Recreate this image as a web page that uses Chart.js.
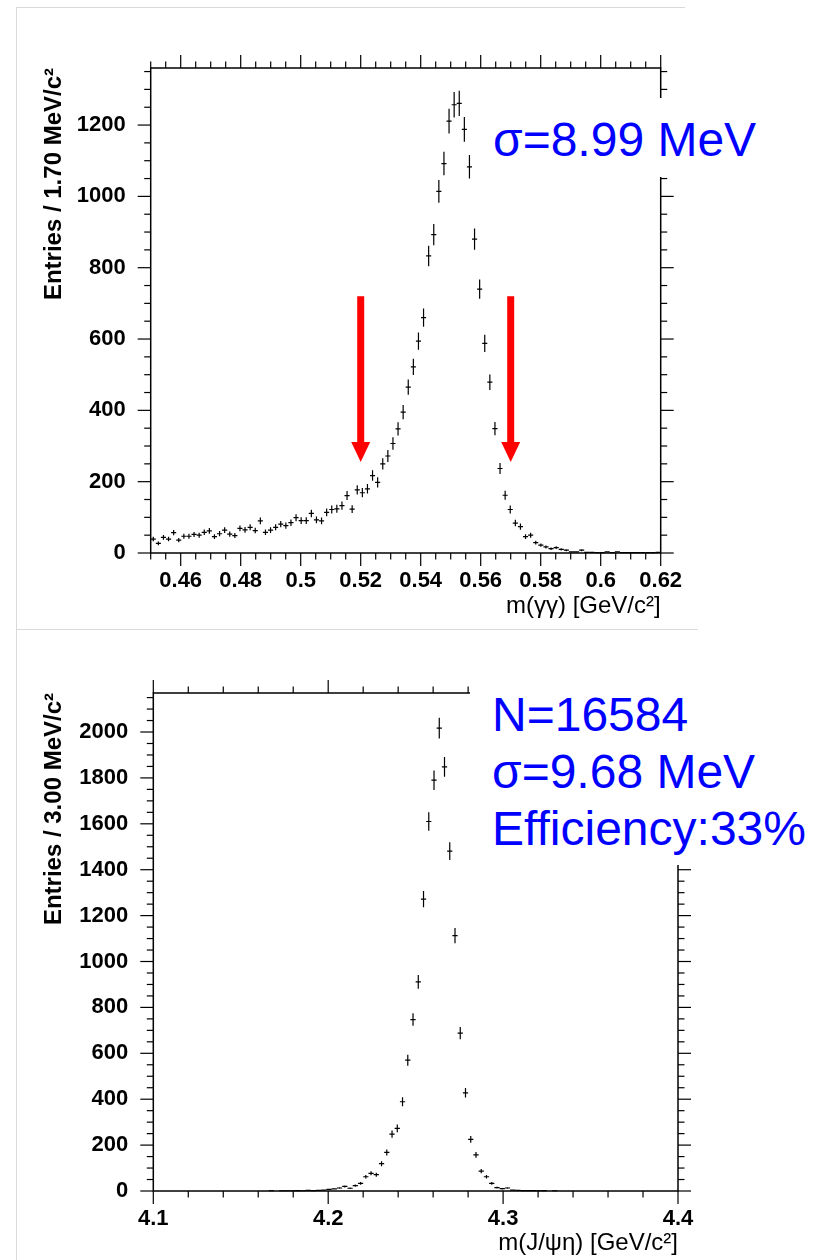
<!DOCTYPE html>
<html>
<head>
<meta charset="utf-8">
<script src="https://cdn.jsdelivr.net/npm/chart.js@4/dist/chart.umd.min.js"></script>
<style>
  html, body { margin: 0; padding: 0; background: #fff; }
  body { width: 825px; height: 1260px; position: relative; overflow: hidden; font-family: "Liberation Sans", Arial, sans-serif; }
  canvas { position: absolute; left: 0; }
  #c-top { top: 0; }
  #c-bot { top: 628px; }
  .panel { position: absolute; border-top: 1px solid #d9d9d9; border-left: 1px solid #d9d9d9; }
  .mask { position: absolute; background: #fff; }
  .note { position: absolute; color: #0000ff; font-size: 48px; line-height: 57px; white-space: nowrap; }
</style>
</head>
<body>
<div class="panel" style="left:16px;top:7px;width:668px;height:621px"></div>
<div class="panel" style="left:16px;top:629px;width:681px;height:640px"></div>
<canvas id="c-top" width="825" height="628"></canvas>
<canvas id="c-bot" width="825" height="632"></canvas>
<div class="mask" style="left:485px;top:98px;width:290px;height:79px"></div>
<div class="note" style="left:493px;top:111px">σ=8.99 MeV</div>
<div class="mask" style="left:470px;top:675px;width:345px;height:190px"></div>
<div class="note" style="left:492px;top:686px">N=16584<br>σ=9.68 MeV<br>Efficiency:33%</div>
<script>
"use strict";

// m(γγ) histogram, 100 bins of 1.70 MeV
const TOP_X_MIN = 0.45;
const TOP_X_MAX = 0.62;
const TOP_BIN = 0.0017;
const TOP_Y_MAX = 1360;
const TOP_X_TICKS = [0.46, 0.48, 0.5, 0.52, 0.54, 0.56, 0.58, 0.6, 0.62];
const TOP_Y_TICKS = [0, 200, 400, 600, 800, 1000, 1200];
const TOP_COUNTS = [
  39, 27, 44, 39, 57, 36, 47, 47, 52, 50,
  58, 62, 46, 54, 64, 53, 49, 69, 65, 72,
  63, 90, 58, 64, 72, 81, 77, 85, 99, 91,
  91, 111, 93, 90, 114, 122, 124, 133, 161, 123,
  177, 169, 180, 217, 198, 250, 272, 307, 348, 395,
  465, 522, 594, 660, 833, 893, 1014, 1092, 1211, 1257,
  1261, 1188, 1083, 880, 740, 588, 479, 349, 237, 162,
  122, 84, 74, 46, 50, 29, 22, 17, 12, 15,
  10, 8, 3, 3, 8, 2, 2, 1, 1, 3,
  1, 3, 1, 1, 1, 1, 1, 1, 1, 2,
];
// selection window and arrow extent (in entries)
const TOP_CUTS = [0.52, 0.57];
const ARROW_FROM = 720;
const ARROW_TO = 255;

// m(J/ψη) histogram, 100 bins of 3.00 MeV
const BOT_X_MIN = 4.1;
const BOT_X_MAX = 4.4;
const BOT_BIN = 0.003;
const BOT_Y_MAX = 2170;
const BOT_X_TICKS = [4.1, 4.2, 4.3, 4.4];
const BOT_Y_TICKS = [0, 200, 400, 600, 800, 1000, 1200, 1400, 1600, 1800, 2000];
const BOT_COUNTS = [
  0, 0, 0, 0, 0, 0, 0, 0, 0, 0,
  0, 0, 0, 0, 0, 0, 0, 0, 0, 0,
  0, 0, 1, 0, 1, 1, 1, 2, 1, 3,
  2, 3, 4, 7, 9, 13, 20, 12, 23, 33,
  62, 77, 71, 119, 168, 248, 273, 389, 570, 747,
  911, 1272, 1610, 1790, 2017, 1848, 1481, 1113, 688, 428,
  225, 157, 87, 62, 33, 15, 10, 13, 4, 3,
  2, 2, 2, 1, 2, 0, 1, 0, 0, 0,
  0, 0, 0, 0, 0, 0, 0, 0, 0, 0,
  0, 0, 0, 0, 0, 0, 0, 0, 0, 0,
];

const FONT = "'Liberation Sans', Arial, sans-serif";
Chart.defaults.font.family = FONT;

const toPoints = (counts, xmin, bin) => {
  const pts = [];
  counts.forEach((n, i) => {
    if (n > 0) pts.push({ x: xmin + bin * (i + 0.5), y: n });
  });
  return pts;
};

// ROOT-like frame, outward ticks on all four sides, error crosses, cut arrows
const rootStyle = {
  id: "rootStyle",
  beforeDatasetsDraw(chart, args, o) {
    const { ctx, chartArea: a, scales: { x, y } } = chart;
    ctx.save();
    ctx.strokeStyle = "#000";
    ctx.lineWidth = 1.5;
    ctx.strokeRect(a.left, a.top, a.right - a.left, a.bottom - a.top);
    ctx.lineWidth = 1.2;
    const seg = (x0, y0, x1, y1) => { ctx.beginPath(); ctx.moveTo(x0, y0); ctx.lineTo(x1, y1); ctx.stroke(); };
    const isMajor = (v, step) => Math.abs(v / step - Math.round(v / step)) < 1e-6;
    const nx = Math.round((x.max - x.min) / o.xMinor);
    for (let i = 0; i <= nx; i++) {
      const v = x.min + i * o.xMinor;
      const len = isMajor(v, o.xMajor) ? 13 : 6.5;
      const px = x.getPixelForValue(v);
      seg(px, a.bottom, px, a.bottom + len);
      seg(px, a.top, px, a.top - len);
    }
    const ny = Math.floor((y.max - y.min) / o.yMinor + 1e-6);
    for (let i = 0; i <= ny; i++) {
      const v = y.min + i * o.yMinor;
      const len = isMajor(v, o.yMajor) ? 13 : 6.5;
      const py = y.getPixelForValue(v);
      seg(a.left, py, a.left - len, py);
      seg(a.right, py, a.right + len, py);
    }
    ctx.restore();
  },
  afterDatasetsDraw(chart, args, o) {
    const { ctx, scales: { x, y } } = chart;
    const meta = chart.getDatasetMeta(0);
    const raw = chart.data.datasets[0].data;
    ctx.save();
    ctx.strokeStyle = "#000";
    ctx.lineWidth = 1.2;
    meta.data.forEach((el, i) => {
      const d = raw[i];
      const err = Math.sqrt(d.y);
      const x0 = x.getPixelForValue(d.x - o.bin / 2);
      const x1 = x.getPixelForValue(d.x + o.bin / 2);
      ctx.beginPath();
      ctx.moveTo(x0, el.y);
      ctx.lineTo(x1, el.y);
      ctx.moveTo(el.x, y.getPixelForValue(d.y - err));
      ctx.lineTo(el.x, y.getPixelForValue(d.y + err));
      ctx.stroke();
    });
    ctx.fillStyle = "#ff0000";
    for (const cut of o.arrows || []) {
      const px = x.getPixelForValue(cut);
      const y0 = y.getPixelForValue(o.arrowFrom);
      const y1 = y.getPixelForValue(o.arrowTo);
      const head = 20;
      ctx.fillRect(px - 3.5, y0, 7, y1 - head - y0);
      ctx.beginPath();
      ctx.moveTo(px - 9.5, y1 - head);
      ctx.lineTo(px + 9.5, y1 - head);
      ctx.lineTo(px, y1);
      ctx.closePath();
      ctx.fill();
    }
    ctx.restore();
  },
};

function histChart(id, c) {
  return new Chart(document.getElementById(id), {
    type: "scatter",
    data: { datasets: [{ data: c.points, pointRadius: 0, pointHoverRadius: 0, showLine: false }] },
    options: {
      responsive: false,
      animation: false,
      events: [],
      layout: { padding: { top: c.padTop, right: c.padRight, left: 0, bottom: 0 } },
      plugins: {
        legend: { display: false },
        tooltip: { enabled: false },
        rootStyle: c.style,
      },
      scales: {
        x: {
          type: "linear", min: c.xMin, max: c.xMax,
          grid: { display: false }, border: { display: false },
          afterBuildTicks: (s) => { s.ticks = c.xTicks.map((v) => ({ value: v })); },
          afterFit: (s) => { s.height = c.xHeight; },
          ticks: { padding: c.xTickPad, color: "#000", autoSkip: false, maxRotation: 0,
            font: { size: 22, weight: "bold" }, callback: (v) => String(v) },
          title: { display: true, text: c.xTitle, align: "end", color: "#000",
            font: { size: 24 }, padding: { top: 0, bottom: c.xTitlePad } },
        },
        y: {
          type: "linear", min: 0, max: c.yMax,
          grid: { display: false }, border: { display: false },
          afterBuildTicks: (s) => { s.ticks = c.yTicks.map((v) => ({ value: v })); },
          afterFit: (s) => { s.width = c.yWidth; },
          ticks: { padding: 17, color: "#000", autoSkip: false,
            font: { size: 22, weight: "bold" }, callback: (v) => String(v) },
          title: { display: true, text: c.yTitle, align: "end", color: "#000",
            font: { size: 24, weight: "bold" }, padding: { top: 40, bottom: 0 } },
        },
      },
    },
    plugins: [rootStyle],
  });
}

histChart("c-top", {
  points: toPoints(TOP_COUNTS, TOP_X_MIN, TOP_BIN),
  xMin: TOP_X_MIN, xMax: TOP_X_MAX, yMax: TOP_Y_MAX,
  xTicks: TOP_X_TICKS, yTicks: TOP_Y_TICKS,
  xTitle: "m(γγ) [GeV/c²]", yTitle: "Entries / 1.70 MeV/c²",
  padTop: 68, padRight: 164.3, yWidth: 150.7, xHeight: 75, xTitlePad: 7, xTickPad: 7,
  style: { xMinor: 0.005, xMajor: 0.02, yMinor: 50, yMajor: 200, bin: TOP_BIN,
    arrows: TOP_CUTS, arrowFrom: ARROW_FROM, arrowTo: ARROW_TO },
});

histChart("c-bot", {
  points: toPoints(BOT_COUNTS, BOT_X_MIN, BOT_BIN),
  xMin: BOT_X_MIN, xMax: BOT_X_MAX, yMax: BOT_Y_MAX,
  xTicks: BOT_X_TICKS, yTicks: BOT_Y_TICKS,
  xTitle: "m(J/ψη) [GeV/c²]", yTitle: "Entries / 3.00 MeV/c²",
  padTop: 65, padRight: 147, yWidth: 153.3, xHeight: 69, xTitlePad: 2, xTickPad: 7,
  style: { xMinor: 0.02, xMajor: 0.1, yMinor: 50, yMajor: 200, bin: BOT_BIN },
});
</script>
</body>
</html>
